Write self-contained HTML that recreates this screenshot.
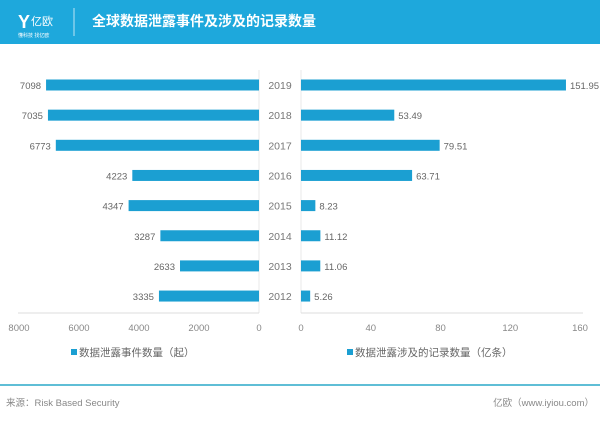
<!DOCTYPE html>
<html><head><meta charset="utf-8"><style>
body{margin:0;width:600px;height:417px;background:#fff;overflow:hidden;font-family:"Liberation Sans","Noto Sans CJK SC",sans-serif}
</style></head><body>
<svg width="600" height="417" xmlns="http://www.w3.org/2000/svg" id="c">
<rect x="0" y="0" width="600" height="44" fill="#1ea8dc"/>
<text x="18" y="28" fill="#fff" font-size="18" font-weight="bold">Y</text>
<text x="31" y="25" fill="#fff" font-size="11">亿欧</text>
<text x="18" y="37" fill="#fff" font-size="5">懂科技 找亿欧</text>
<line x1="74" y1="8" x2="74" y2="36" stroke="#fff" stroke-opacity="0.7"/>
<text x="92" y="26" fill="#fff" font-size="14" font-weight="bold">全球数据泄露事件及涉及的记录数量</text>
<g id="plot"></g>
<line x1="0" y1="385" x2="600" y2="385" stroke="#2aa9c9" stroke-width="1.5"/>
<text x="6" y="406" fill="#888" font-size="9.5">来源：Risk Based Security</text>
<text x="594" y="406" fill="#888" font-size="9.5" text-anchor="end">亿欧（www.iyiou.com）</text>
</svg>
<script>
const years=["2019","2018","2017","2016","2015","2014","2013","2012"];
const events=[7098,7035,6773,4223,4347,3287,2633,3335];
const records=[151.95,53.49,79.51,63.71,8.23,11.12,11.06,5.26];
const leftTicks=[8000,6000,4000,2000,0];
const rightTicks=[0,40,80,120,160];
const NS="http://www.w3.org/2000/svg";
const g=document.getElementById('plot');
function mk(t,a,txt){const e=document.createElementNS(NS,t);for(const k in a)e.setAttribute(k,a[k]);if(txt!=null)e.textContent=txt;g.appendChild(e);return e;}
const lx=v=>259-v*(240/8000);
const rx=v=>301+v*(279/160);
const yc=i=>85+i*30.15;
let e;
e=mk('line',{x1:259,y1:70,x2:259,y2:313,stroke:'#e8e8e8'});

e=mk('line',{x1:301,y1:70,x2:301,y2:313,stroke:'#e8e8e8'});

e=mk('line',{x1:18,y1:313,x2:259,y2:313,stroke:'#ddd'});

e=mk('line',{x1:301,y1:313,x2:583,y2:313,stroke:'#ddd'});

years.forEach((y,i)=>{
  const c=yc(i);
  e=mk('text',{x:280,y:c+4,'font-size':10.5,fill:'#777','text-anchor':'middle'},y);
  
  e=mk('rect',{x:lx(events[i]),y:c-5.5,width:259-lx(events[i]),height:11,fill:'#1b9fd2'});
  
  e=mk('text',{x:lx(events[i])-5,y:c+4,'font-size':9.5,fill:'#666','text-anchor':'end'},String(events[i]));
  
  e=mk('rect',{x:301,y:c-5.5,width:rx(records[i])-301,height:11,fill:'#1b9fd2'});
  
  e=mk('text',{x:rx(records[i])+4,y:c+4,'font-size':9.5,fill:'#666'},records[i].toFixed(2));
  
});
leftTicks.forEach(t=>{
  e=mk('text',{x:lx(t),y:331,'font-size':9.5,fill:'#888','text-anchor':'middle'},String(t));
  
});
rightTicks.forEach(t=>{
  e=mk('text',{x:rx(t),y:331,'font-size':9.5,fill:'#888','text-anchor':'middle'},String(t));
  
});
e=mk('rect',{x:71,y:349,width:6,height:6,fill:'#1b9fd2'});

e=mk('text',{x:79,y:356,'font-size':10.5,fill:'#666'},'数据泄露事件数量（起）');

e=mk('rect',{x:347,y:349,width:6,height:6,fill:'#1b9fd2'});

e=mk('text',{x:355,y:356,'font-size':10.5,fill:'#666'},'数据泄露涉及的记录数量（亿条）');

</script>
</body></html>
